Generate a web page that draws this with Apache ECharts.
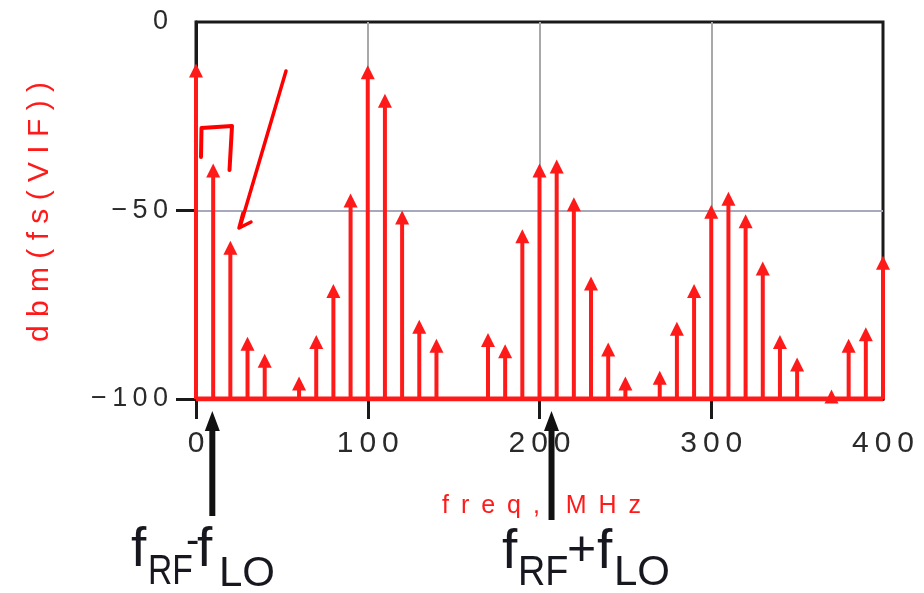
<!DOCTYPE html>
<html>
<head>
<meta charset="utf-8">
<script src="https://cdn.jsdelivr.net/npm/echarts@6/dist/echarts.min.js"></script>
<style>
html,body{margin:0;padding:0;background:#fff;}
#main{width:924px;height:593px;}
</style>
</head>
<body>
<div id="main"></div>
<script>
// ---- data ----
const freqs = [0,10,20,30,40,50,60,70,80,90,100,110,120,130,140,150,160,170,180,190,200,
               210,220,230,240,250,260,270,280,290,300,310,320,330,340,350,360,370,380,390,400];
const levels = [-11,-37.5,-58,-83.5,-88,-100,-94,-83,-69.5,-45.5,-11.5,-19,-50,-79,-84,-100,-100,-82.5,-85.5,-55,-37.5,
                -36.5,-46.5,-67.5,-85,-94,-100,-92.5,-79.5,-69.5,-48.5,-45,-51,-63.5,-83,-89,-100,-97.5,-84,-81,-62];
const floorLevel = -100;
const xTickValues = [0,100,200,300];
const xLabelValues = [0,100,200,300,400];
const yTickValues = [-100,-50];
const yLabelValues = [-100,-50,0];
const yAxisTitle = 'dbm(fs(VIF))';
const xAxisTitle = 'freq, MHz';
const arrowFreqs = [9.5, 207];

const RED = '#ff1a1a';
const spaced = s => s.split('').join('\u2009');

const stemData = freqs.map((f, i) => [f, levels[i]]);

const chart = echarts.init(document.getElementById('main'));
chart.setOption({
  animation: false,
  backgroundColor: '#fff',
  grid: {left: 196, top: 22, right: 41, bottom: 194, show: true,
         borderColor: '#1a1a1a', borderWidth: 3, backgroundColor: 'transparent'},
  xAxis: {
    type: 'value', min: 0, max: 400, interval: 100,
    axisLine: {show: true, onZero: false, lineStyle: {color: '#1a1a1a', width: 3}},
    axisTick: {show: true, length: 20, customValues: xTickValues, lineStyle: {color: '#1a1a1a', width: 3}},
    axisLabel: {customValues: xLabelValues, margin: 30, color: '#2a2a2a', fontSize: 30,
                fontFamily: 'Liberation Sans', formatter: v => spaced(String(v))},
    splitLine: {show: true, lineStyle: {color: '#a8a8a8', width: 2}}
  },
  yAxis: {
    type: 'value', min: -100, max: 0, interval: 50,
    axisLine: {show: true, onZero: false, lineStyle: {color: '#1a1a1a', width: 3}},
    axisTick: {show: true, length: 20, customValues: yTickValues, lineStyle: {color: '#1a1a1a', width: 3}},
    axisLabel: {customValues: yLabelValues, margin: 28, color: '#2a2a2a', fontSize: 27,
                fontFamily: 'Liberation Sans', formatter: v => spaced(String(v).replace('-', '\u2212'))},
    splitLine: {show: true, lineStyle: {color: '#a8a8bc', width: 2}}
  },
  series: [
    {
      type: 'line', data: [[0, floorLevel], [400, floorLevel]], symbol: 'none',
      lineStyle: {color: RED, width: 5}, z: 3, silent: true
    },
    {
      type: 'custom', z: 4, data: stemData, clip: false,
      renderItem: function (params, api) {
        const x = api.value(0), y = api.value(1);
        if (y <= floorLevel + 0.5) return {type: 'group', children: []};
        const base = api.coord([x, floorLevel]);
        const top = api.coord([x, y]);
        return {
          type: 'group',
          children: [
            {type: 'line', shape: {x1: base[0], y1: base[1], x2: top[0], y2: top[1] + 6},
             style: {stroke: RED, lineWidth: 4}},
            {type: 'polygon', shape: {points: [[top[0], top[1]], [top[0] - 7, top[1] + 14], [top[0] + 7, top[1] + 14]]},
             style: {fill: RED}}
          ]
        };
      }
    }
  ]
});

// ---- annotations (positions derived from the axes) ----
const yBase = chart.convertToPixel({yAxisIndex: 0}, floorLevel);
const ax = arrowFreqs.map(f => chart.convertToPixel({xAxisIndex: 0}, f));
const arrowBottoms = [yBase + 117, yBase + 121];
function arrow(x, bottom) {
  const tip = yBase + 12;
  return [
    {type: 'rect', shape: {x: x - 3, y: tip + 16, width: 6, height: bottom - tip - 16}, style: {fill: '#111'}},
    {type: 'polygon', shape: {points: [[x, tip], [x - 7.5, tip + 20], [x + 7.5, tip + 20]]}, style: {fill: '#111'}}
  ];
}
const TXT = '#17171f';
function t(x, y, text, size, extra) {
  return Object.assign({type: 'text', x: x, y: y,
    style: {text: text, fontSize: size, fontFamily: 'Liberation Sans', fill: TXT, align: 'left', verticalAlign: 'middle'}}, extra || {});
}
const xTitleText = 'freq,'.split('').join(' \u2009') + '   \u2009' + 'MHz'.split('').join(' \u2009');
const graphics = [].concat(
  arrow(ax[0], arrowBottoms[0]),
  arrow(ax[1], arrowBottoms[1]),
  [
    // axis titles
    {type: 'text', x: 40, y: 212, rotation: Math.PI / 2,
     style: {text: yAxisTitle.split('').join(' '), fontSize: 30, fontFamily: 'Liberation Sans', fill: RED, align: 'center', verticalAlign: 'middle'}},
    {type: 'text', x: 442, y: 506,
     style: {text: xTitleText, fontSize: 25, fontFamily: 'Liberation Sans', fill: RED, align: 'left', verticalAlign: 'middle'}},
    // f_RF - f_LO
    t(131, 551, 'f', 55),
    t(148, 572, 'RF', 42, {scaleX: 0.8}),
    t(186, 542, '-', 40),
    t(197, 551, 'f', 55),
    t(219, 574, 'LO', 42),
    // f_RF + f_LO
    t(502, 553, 'f', 55),
    t(518, 573, 'RF', 42, {scaleX: 0.9}),
    t(567, 551, '+', 50),
    t(597, 553, 'f', 55),
    t(614, 573, 'LO', 42),
    // hand-drawn red marks
    {type: 'polyline', shape: {points: [[201, 157], [201.5, 128], [232, 126], [229.5, 170]]},
     style: {stroke: '#ff0000', lineWidth: 4, fill: null, lineJoin: 'round', lineCap: 'round'}},
    {type: 'polyline', shape: {points: [[286, 71], [240, 227]]},
     style: {stroke: '#ff0000', lineWidth: 3.5, fill: null, lineCap: 'round'}},
    {type: 'polyline', shape: {points: [[243, 213], [239, 228], [251, 222]]},
     style: {stroke: '#ff0000', lineWidth: 3.5, fill: null, lineJoin: 'round', lineCap: 'round'}}
  ]
);
chart.setOption({graphic: graphics});
</script>
</body>
</html>
